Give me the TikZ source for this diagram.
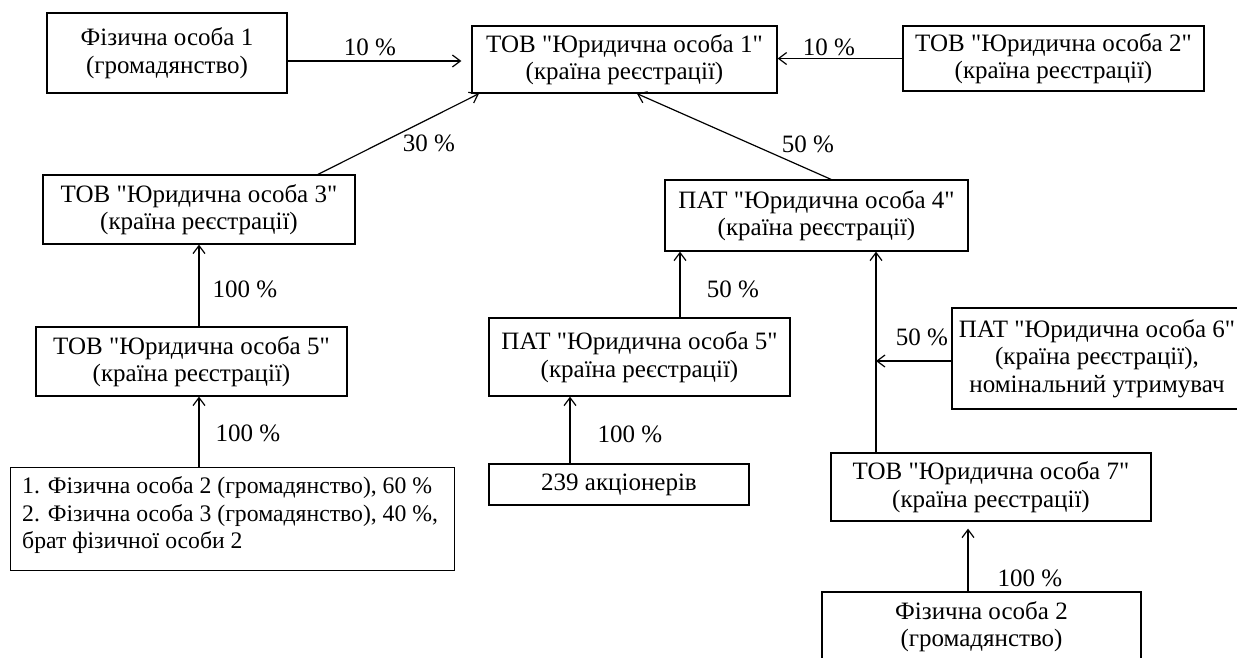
\documentclass[tikz,border=0pt]{standalone}
\usepackage{fontspec}
\setmainfont{Liberation Serif}[Ligatures=TeXOff]
\usetikzlibrary{arrows.meta}
\begin{document}
\begin{tikzpicture}[x=1pt,y=-1pt,
  font=\fontsize{25}{27.5}\selectfont,
  box/.style={draw, line width=1.3pt, inner sep=0pt, align=center},
  arr/.style={line width=1.2pt, -{Straight Barb[length=8pt,width=12pt,line width=1.2pt]}},
  lbl/.style={inner sep=0pt}]
\useasboundingbox (0,0) rectangle (1237,657);
\clip (0,0) rectangle (1237,657);

% boxes
\node[box, minimum width=240pt, minimum height=80pt] (fo1) at (167,53) {Фізична особа 1\\(громадянство)};
\node[box, minimum width=305pt, minimum height=67pt] (yo1) at (624.5,59.5) {ТОВ "Юридична особа 1"\\(країна реєстрації)};
\node[box, minimum width=301pt, minimum height=65pt] (yo2) at (1053.5,58.5) {ТОВ "Юридична особа 2"\\(країна реєстрації)};
\node[box, minimum width=312pt, minimum height=69pt] (yo3) at (199,209.5) {ТОВ "Юридична особа 3"\\(країна реєстрації)};
\node[box, minimum width=303pt, minimum height=71pt] (yo4) at (816.5,215.5) {ПАТ "Юридична особа 4"\\(країна реєстрації)};
\node[box, minimum width=311pt, minimum height=69pt] (yo5) at (191.5,361.5) {ТОВ "Юридична особа 5"\\(країна реєстрації)};
\node[box, minimum width=301pt, minimum height=78pt] (pat5) at (639.5,357) {ПАТ "Юридична особа 5"\\(країна реєстрації)};
\node[box, minimum width=290pt, minimum height=101pt] (yo6) at (1097,358.5) {ПАТ "Юридична особа 6"\\(країна реєстрації),\\номінальний утримувач};
\node[box, minimum width=320pt, minimum height=68pt] (yo7) at (991,487) {ТОВ "Юридична особа 7"\\(країна реєстрації)};
\node[box, anchor=north west, minimum width=444pt, minimum height=103pt] (bl) at (10,467) {};
\node[inner sep=0pt, align=left, anchor=west, font=\fontsize{23.7}{27.5}\selectfont] (blt) at ([xshift=12pt,yshift=4pt]bl.west) {1. Фізична особа 2 (громадянство), 60 \%\\2. Фізична особа 3 (громадянство), 40 \%,\\брат фізичної особи 2};
\node[box, minimum width=260pt, minimum height=41pt] (a239) at (619,484.5) {239 акціонерів};
\node[box, minimum width=319pt, minimum height=69pt] (fo2) at (981.5,626.5) {Фізична особа 2\\(громадянство)};

% connectors
\coordinate (a1) at ([yshift=-8pt]fo1.east);
\draw[arr, shorten >=10pt] (a1) -- (a1 -| yo1.west);
\draw[arr] (yo2.west) -- (yo2.west -| yo1.east);
\draw[arr] ([xshift=119pt]yo3.north) -- ([xshift=-145.5pt]yo1.south);
\draw[arr] ([xshift=14.5pt]yo4.north) -- ([xshift=12.5pt]yo1.south);
\draw[arr] (yo3.south |- yo5.north) -- (yo3.south);
\coordinate (c6) at ([xshift=7.5pt]yo5.south);
\draw[arr] (bl.north -| c6) -- (c6);
\coordinate (c7) at ([xshift=40.5pt]pat5.north);
\draw[arr] (c7) -- (c7 |- yo4.south);
\coordinate (c8) at ([xshift=-49pt]a239.north);
\draw[arr] (c8) -- (c8 |- pat5.south);
\coordinate (c9) at ([xshift=59.5pt]yo4.south);
\draw[arr] (c9 |- yo7.north) -- (c9);
\coordinate (w6) at ([yshift=-2.5pt]yo6.west);
\draw[arr] (w6) -- (w6 -| c9);
\coordinate (c11) at ([xshift=-13.5pt]fo2.north);
\draw[arr, shorten >=7pt] (c11) -- (c11 |- yo7.south);

% labels
\node[lbl] (l1) at (370,47) {10 \%};
\node[lbl] (l2) at (829,47) {10 \%};
\node[lbl] (l3) at (429,143) {30 \%};
\node[lbl] (l4) at (808,144) {50 \%};
\node[lbl] (l5) at (245,289) {100 \%};
\node[lbl] (l6) at (733,289) {50 \%};
\node[lbl] (l7) at (248,433) {100 \%};
\node[lbl] (l8) at (630,434) {100 \%};
\node[lbl] (l9) at (922,337) {50 \%};
\node[lbl] (l10) at (1030,578) {100 \%};
\end{tikzpicture}
\end{document}
